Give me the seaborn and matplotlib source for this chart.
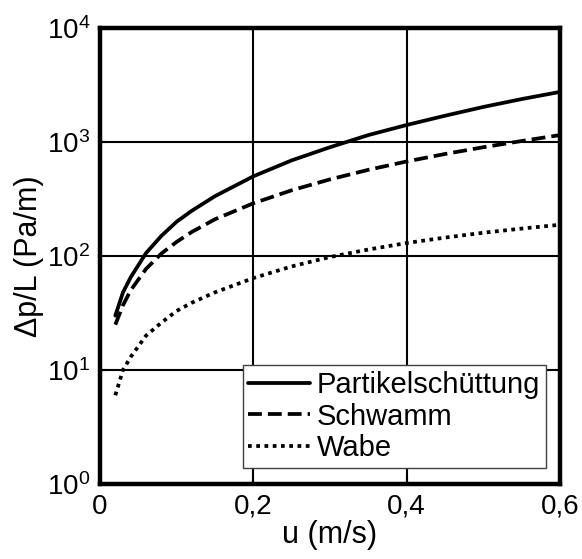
import numpy as np
import pandas as pd
import seaborn as sns
import matplotlib
matplotlib.use("Agg")
import matplotlib.pyplot as plt
from matplotlib.ticker import FixedLocator, FuncFormatter, LogLocator, NullLocator

# ---- data ----
u = [0.02, 0.03, 0.04, 0.06, 0.08, 0.10, 0.12, 0.15, 0.20, 0.25, 0.30, 0.35, 0.40, 0.45, 0.50, 0.55, 0.60]
partikel = [30, 48, 65, 106, 150, 200, 250, 335, 500, 690, 900, 1150, 1410, 1700, 2030, 2380, 2750]
schwamm = [25, 37, 50, 77, 105, 133, 163, 210, 290, 377, 470, 570, 675, 785, 900, 1020, 1150]
wabe = [6, 10, 13, 20, 26, 33, 39, 48, 64, 81, 98, 114, 130, 145, 160, 174, 188]
series_names = ["Partikelschüttung", "Schwamm", "Wabe"]
x_ticks = [0, 0.2, 0.4, 0.6]
x_tick_labels = ["0", "0,2", "0,4", "0,6"]

df = pd.concat([
    pd.DataFrame({"u": u, "dp": partikel, "Material": series_names[0]}),
    pd.DataFrame({"u": u, "dp": schwamm, "Material": series_names[1]}),
    pd.DataFrame({"u": u, "dp": wabe, "Material": series_names[2]}),
])

sns.set_theme(style="white")
plt.rcParams["font.family"] = ["Liberation Sans", "DejaVu Sans"]
plt.rcParams["mathtext.fontset"] = "custom"
plt.rcParams["mathtext.rm"] = "Liberation Sans"
plt.rcParams["mathtext.it"] = "Liberation Sans:italic"
plt.rcParams["mathtext.bf"] = "Liberation Sans:bold"
plt.rcParams["text.color"] = "black"
plt.rcParams["axes.labelcolor"] = "black"
plt.rcParams["xtick.color"] = "black"
plt.rcParams["ytick.color"] = "black"

TICK_FS = 20
LABEL_FS = 22
LEG_FS = 21

fig = plt.figure(figsize=(5.82, 5.59), dpi=100)
ax = fig.add_axes([100 / 582, 1 - 484 / 559, 460 / 582, 456 / 559])

dashes = {series_names[0]: "", series_names[1]: (3.7, 1.6), series_names[2]: (1.0, 1.2)}
sns.lineplot(data=df, x="u", y="dp", hue="Material", style="Material",
             palette={n: "black" for n in series_names}, dashes=dashes,
             linewidth=2.7, ax=ax, legend=True)

ax.set_yscale("log")
ax.set_xlim(0, 0.6)
ax.set_ylim(1, 1e4)
ax.xaxis.set_major_locator(FixedLocator(x_ticks))
ax.xaxis.set_major_formatter(FuncFormatter(lambda v, p: x_tick_labels[p] if p is not None and p < len(x_tick_labels) else ""))
ax.yaxis.set_major_locator(LogLocator(base=10, numticks=10))
ax.yaxis.set_minor_locator(NullLocator())
ax.yaxis.set_major_formatter(FuncFormatter(lambda v, p: r"$\mathregular{10^{%d}}$" % int(round(np.log10(v)))))

ax.grid(True, which="major", color="black", linewidth=1.5, linestyle="-")
for s in ax.spines.values():
    s.set_linewidth(3.2)
    s.set_color("black")
ax.tick_params(axis="both", which="major", direction="in", length=5, width=1.5,
               labelsize=TICK_FS, colors="black", pad=7, left=True, bottom=True)

ax.set_xlabel("u (m/s)", fontsize=LABEL_FS, labelpad=0)
ax.set_ylabel("Δp/L (Pa/m)", fontsize=LABEL_FS, labelpad=2)

leg = ax.legend(loc="lower right", bbox_to_anchor=(0.97, 0.035), borderaxespad=0,
                fontsize=LEG_FS, frameon=True, fancybox=False, framealpha=1,
                edgecolor="#404040", handlelength=2.1, handletextpad=0.25,
                labelspacing=0.12, borderpad=0.2)
leg.get_frame().set_linewidth(1.0)
for line in leg.get_lines():
    line.set_linewidth(2.7)
for t in leg.get_texts():
    t.set_color("black")

fig.savefig("out.png", dpi=100)
